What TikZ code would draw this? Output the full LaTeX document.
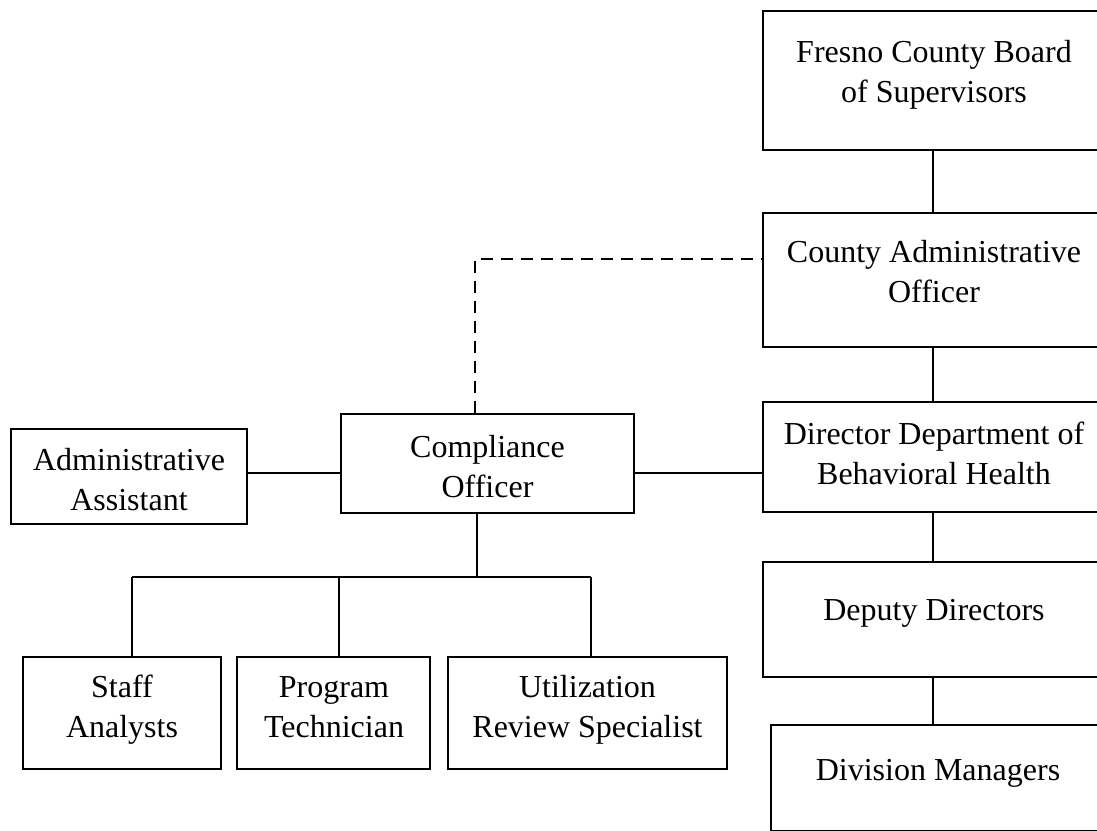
\documentclass[tikz,border=0pt]{standalone}
\usepackage{fontspec}
\setmainfont{Liberation Serif}
\newcommand\twol[2]{\begin{tabular}[t]{@{}c@{}}#1\\#2\end{tabular}}
\begin{document}
\begin{tikzpicture}[x=1pt,y=-1pt,
  box/.style={draw=black,line width=2.8pt,rectangle,inner sep=0pt},
  txt/.style={anchor=base,inner sep=0pt,font=\fontsize{32}{40}\selectfont},
  conn/.style={draw=black,line width=2.7pt},
  dotconn/.style={draw=black,line width=2.7pt,dash pattern=on 12pt off 8pt}]
\useasboundingbox (0,0) rectangle (1097,830);
\clip (0,0) rectangle (1097,830);
\fill[white] (0,0) rectangle (1097,830);
% boxes
\node[box,minimum width=340,minimum height=139] (fresno) at (933,80.5) {};
\node[box,minimum width=340,minimum height=134] (cao) at (933,280) {};
\node[box,minimum width=340,minimum height=110] (ddbh) at (933,457) {};
\node[box,minimum width=340,minimum height=115] (deputy) at (933,619.5) {};
\node[box,minimum width=334,minimum height=106.5] (division) at (938,778.25) {};
\node[box,minimum width=293,minimum height=99] (comp) at (487.5,463.5) {};
\node[box,minimum width=236,minimum height=95] (admin) at (129,476.5) {};
\node[box,minimum width=198,minimum height=112] (staff) at (122,713) {};
\node[box,minimum width=193,minimum height=112] (prog) at (333.5,713) {};
\node[box,minimum width=279,minimum height=112] (util) at (587.5,713) {};
% texts
\node[txt] (fresno-t) at (934,62) {\twol{Fresno County Board}{of Supervisors}};
\node[txt] (cao-t) at (934,262) {\twol{County Administrative}{Officer}};
\node[txt] (ddbh-t) at (934,444) {\twol{Director Department of}{Behavioral Health}};
\node[txt] (deputy-t) at (934,620) {Deputy Directors};
\node[txt] (division-t) at (938,780) {Division Managers};
\node[txt] (comp-t) at (487.5,457) {\twol{Compliance}{Officer}};
\node[txt] (admin-t) at (129,470) {\twol{Administrative}{Assistant}};
\node[txt] (staff-t) at (122,697) {\twol{Staff}{Analysts}};
\node[txt] (prog-t) at (334,697) {\twol{Program}{Technician}};
\node[txt] (util-t) at (587.5,697) {\twol{Utilization}{Review Specialist}};
% connector points
\coordinate (hy) at (0,473);
\coordinate (dx) at (475,259);
\coordinate (bus) at (477,577);
\coordinate (b1) at (132,577);
\coordinate (b2) at (339,577);
\coordinate (b3) at (591,577);
% connectors
\draw[conn] (fresno) -- (cao);
\draw[conn] (cao) -- (ddbh);
\draw[conn] (ddbh) -- (deputy);
\draw[conn] (deputy.south) -- (deputy.south |- division.north);
\draw[conn] (admin.east |- hy) -- (comp.west |- hy);
\draw[conn] (comp.east |- hy) -- (ddbh.west |- hy);
\draw[dotconn] (comp.north -| dx) -- (dx) -- (cao.west |- dx);
\draw[conn] (comp.south -| bus) -- (bus);
\draw[conn] (b1) -- (b3);
\draw[conn] (b1) -- (staff.north -| b1);
\draw[conn] (b2) -- (prog.north -| b2);
\draw[conn] (b3) -- (util.north -| b3);
\end{tikzpicture}
\end{document}
